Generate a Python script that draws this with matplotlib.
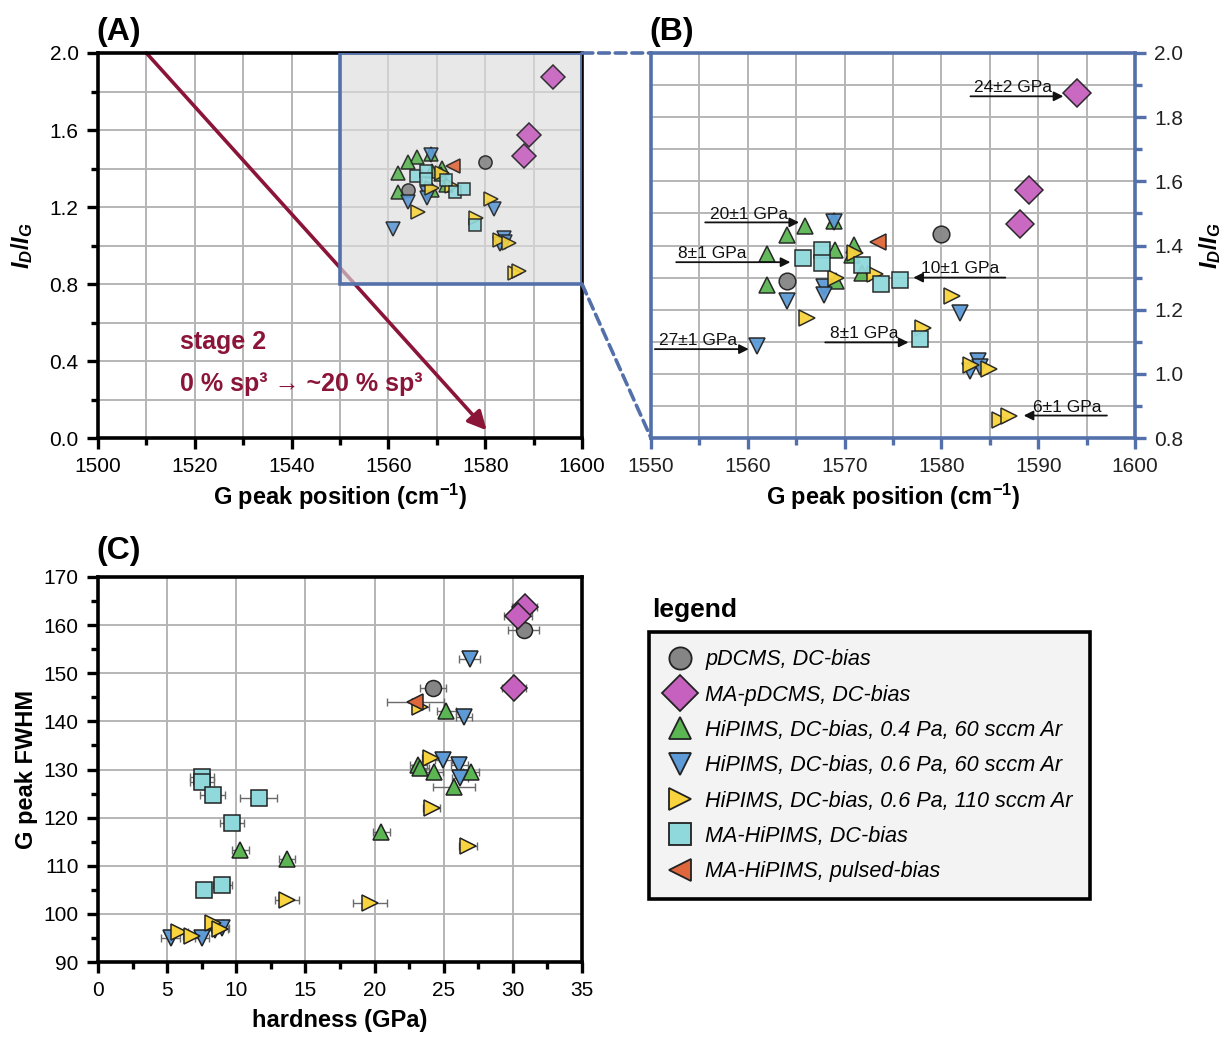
import matplotlib
matplotlib.use('Agg')
import matplotlib.pyplot as plt
from matplotlib.lines import Line2D
from matplotlib.patches import Rectangle, ConnectionPatch
from matplotlib.ticker import MultipleLocator, FormatStrFormatter

plt.rcParams['font.family'] = ['Liberation Sans', 'DejaVu Sans']
plt.rcParams['mathtext.fontset'] = 'custom'
plt.rcParams['mathtext.rm'] = 'Liberation Sans:bold'
plt.rcParams['mathtext.it'] = 'Liberation Sans:italic:bold'
plt.rcParams['mathtext.bf'] = 'Liberation Sans:bold'

# ---------------- data: panels A/B (G peak position, I_D/I_G) ----------------
pdcms_pos = [1564.0, 1580.0]
pdcms_ratio = [1.288, 1.436]
mapdcms_pos = [1594.0, 1589.0, 1588.1]
mapdcms_ratio = [1.875, 1.574, 1.467]
hip04_pos = [1565.9, 1564.0, 1568.9, 1562.0, 1569.0, 1571.0, 1570.8, 1571.8, 1569.1, 1562.0]
hip04_ratio = [1.460, 1.432, 1.475, 1.375, 1.387, 1.403, 1.370, 1.314, 1.288, 1.278]
hip06_pos = [1568.9, 1564.0, 1567.9, 1567.9, 1581.9, 1560.9, 1583.8, 1583.0, 1584.0]
hip06_ratio = [1.472, 1.226, 1.271, 1.245, 1.190, 1.088, 1.039, 1.008, 1.020]
hip110_pos = [1571.1, 1569.1, 1573.1, 1581.1, 1566.1, 1578.1, 1583.1, 1584.9, 1586.1, 1587.0]
hip110_ratio = [1.377, 1.300, 1.310, 1.242, 1.174, 1.143, 1.029, 1.015, 0.857, 0.868]
mahip_pos = [1565.7, 1567.7, 1567.7, 1571.8, 1573.8, 1575.7, 1577.8]
mahip_ratio = [1.361, 1.387, 1.345, 1.340, 1.280, 1.291, 1.109]
mapulse_pos = [1573.4]
mapulse_ratio = [1.411]

# ---------------- data: panel C (hardness, G peak FWHM, hardness error) ----------------
pdcms_hard = [30.77, 24.23]
pdcms_fwhm = [158.9, 147.0]
pdcms_err = [1.15, 0.94]
mapdcms_hard = [30.87, 30.36, 30.07]
mapdcms_fwhm = [163.8, 161.8, 147.0]
mapdcms_err = [0.9, 1.03, 0.88]
hip04_hard = [25.2, 23.16, 23.3, 24.32, 26.97, 25.74, 20.5, 10.3, 13.66]
hip04_fwhm = [142.1, 131.0, 130.3, 129.4, 129.4, 126.4, 117.1, 113.2, 111.4]
hip04_err = [0.7, 0.6, 0.6, 0.6, 0.6, 1.5, 0.6, 0.6, 0.55]
hip06_hard = [26.9, 26.45, 24.97, 26.13, 26.18, 5.25, 7.5, 8.46, 9.0]
hip06_fwhm = [153.0, 140.9, 131.9, 131.0, 128.2, 94.9, 94.9, 96.7, 97.0]
hip06_err = [0.76, 0.58, 0.6, 0.6, 0.6, 0.7, 0.5, 0.5, 0.5]
hip110_hard = [23.3, 24.05, 24.12, 26.76, 19.67, 13.7, 5.88, 6.77, 8.34, 8.82]
hip110_fwhm = [143.0, 132.3, 122.0, 114.1, 102.3, 102.9, 96.2, 95.3, 98.2, 96.8]
hip110_err = [0.6, 0.6, 0.6, 0.66, 1.2, 0.87, 0.6, 0.6, 0.6, 0.6]
mahip_hard = [7.51, 7.51, 8.29, 11.62, 9.68, 9.0, 7.63]
mahip_fwhm = [128.4, 127.4, 124.7, 124.1, 118.9, 105.9, 104.9]
mahip_err = [0.85, 0.85, 0.9, 1.34, 0.89, 0.67, 0.57]
mapulse_hard = [22.95]
mapulse_fwhm = [144.0]
mapulse_err = [2.05]

labels = ['pDCMS, DC-bias', 'MA-pDCMS, DC-bias',
          'HiPIMS, DC-bias, 0.4 Pa, 60 sccm Ar', 'HiPIMS, DC-bias, 0.6 Pa, 60 sccm Ar',
          'HiPIMS, DC-bias, 0.6 Pa, 110 sccm Ar', 'MA-HiPIMS, DC-bias', 'MA-HiPIMS, pulsed-bias']

# (B) annotations: text, arrow start, arrow end, text position
ann_text = ['24±2 GPa', '20±1 GPa', '8±1 GPa', '10±1 GPa', '8±1 GPa', '27±1 GPa', '6±1 GPa']
ann_start = [(1583.0, 1.865), (1555.6, 1.472), (1552.6, 1.348), (1586.6, 1.300),
             (1568.0, 1.098), (1550.4, 1.077), (1597.1, 0.870)]
ann_end = [(1592.6, 1.865), (1565.3, 1.472), (1564.4, 1.348), (1577.1, 1.300),
           (1576.6, 1.098), (1560.1, 1.077), (1588.5, 0.870)]
ann_txt_pos = [(1583.4, 1.877), (1556.1, 1.484), (1552.8, 1.360), (1577.9, 1.313),
               (1568.5, 1.111), (1550.8, 1.089), (1589.5, 0.882)]

# ---------------- styles ----------------
markers = ['o', 'D', '^', 'v', '>', 's', '<']
colors = ['#858585', '#c761bf', '#5bb553', '#5d9ad6', '#f9d43e', '#8fd8dc', '#e0673b']
size_scale = [1.0, 0.75, 1.0, 1.0, 1.0, 0.95, 1.0]
blue = '#5470aa'
darkred = '#8b1538'

ab_series = [(pdcms_pos, pdcms_ratio), (mapdcms_pos, mapdcms_ratio), (hip04_pos, hip04_ratio),
             (hip06_pos, hip06_ratio), (hip110_pos, hip110_ratio), (mahip_pos, mahip_ratio),
             (mapulse_pos, mapulse_ratio)]
c_series = [(pdcms_hard, pdcms_fwhm, pdcms_err), (mapdcms_hard, mapdcms_fwhm, mapdcms_err),
            (hip04_hard, hip04_fwhm, hip04_err), (hip06_hard, hip06_fwhm, hip06_err),
            (hip110_hard, hip110_fwhm, hip110_err), (mahip_hard, mahip_fwhm, mahip_err),
            (mapulse_hard, mapulse_fwhm, mapulse_err)]

W, H = 1228, 1038
fig = plt.figure(figsize=(W / 100, H / 100), dpi=100)


def rect(l, t, r, b):
    return [l / W, 1 - b / H, (r - l) / W, (b - t) / H]


axA = fig.add_axes(rect(98, 53, 582, 438))
axB = fig.add_axes(rect(651, 53, 1135, 438))
axC = fig.add_axes(rect(98, 577, 582, 962))

TICK_FS = 15
LABEL_FS = 17
grid_kw = dict(color='#b5b5b5', linewidth=1.4)


def style_axes(ax, spine_color='black'):
    for s in ax.spines.values():
        s.set_linewidth(2.6)
        s.set_color(spine_color)
    ax.tick_params(which='major', direction='out', length=8, width=2.4, labelsize=TICK_FS,
                   color=spine_color, pad=6)
    ax.tick_params(which='minor', direction='out', length=5, width=2.4, color=spine_color)


# ---------------- panel A ----------------
axA.set_xlim(1500, 1600)
axA.set_ylim(0, 2.0)
axA.xaxis.set_major_locator(MultipleLocator(20))
axA.xaxis.set_minor_locator(MultipleLocator(10))
axA.yaxis.set_major_locator(MultipleLocator(0.4))
axA.yaxis.set_minor_locator(MultipleLocator(0.2))
axA.yaxis.set_major_formatter(FormatStrFormatter('%.1f'))
axA.grid(True, which='both', **grid_kw)
axA.set_axisbelow(True)
style_axes(axA)
axA.set_xlabel('G peak position (cm$^{-1}$)', fontsize=LABEL_FS, fontweight='bold', labelpad=4)
axA.set_ylabel('$I_D/I_G$', fontsize=LABEL_FS, labelpad=10)

axA.annotate('', xy=(1580.3, 0.04), xytext=(1510, 2.0),
             arrowprops=dict(arrowstyle='-|>', color=darkred, lw=2.6, mutation_scale=28,
                             shrinkA=0, shrinkB=0), zorder=2)
axA.add_patch(Rectangle((1550, 0.8), 50, 1.2, facecolor='#dcdcdc', alpha=0.65,
                        edgecolor='none', zorder=3))
axA.add_patch(Rectangle((1550, 0.8), 50, 1.2, fill=False, edgecolor=blue, lw=2.6, zorder=3.5))
axA.text(1517.0, 0.50, 'stage 2', color=darkred, fontsize=18, fontweight='bold', va='center')
axA.text(1517.0, 0.28, '0 % sp³ → ~20 % sp³', color=darkred, fontsize=18, fontweight='bold',
         va='center')

for (x, y), m, c, s in zip(ab_series, markers, colors, size_scale):
    axA.plot(x, y, linestyle='none', marker=m, ms=9.5 * s if m != 'D' else 12.5,
             markerfacecolor=c, markeredgecolor='#222222', markeredgewidth=1.1, alpha=0.9, zorder=5)

# ---------------- panel B ----------------
axB.set_xlim(1550, 1600)
axB.set_ylim(0.8, 2.0)
axB.xaxis.set_major_locator(MultipleLocator(10))
axB.xaxis.set_minor_locator(MultipleLocator(5))
axB.yaxis.set_major_locator(MultipleLocator(0.2))
axB.yaxis.set_minor_locator(MultipleLocator(0.1))
axB.yaxis.set_major_formatter(FormatStrFormatter('%.1f'))
axB.yaxis.tick_right()
axB.yaxis.set_label_position('right')
axB.grid(True, which='both', **grid_kw)
axB.set_axisbelow(True)
style_axes(axB, blue)
axB.tick_params(axis='both', labelcolor='#222222')
axB.set_xlabel('G peak position (cm$^{-1}$)', fontsize=LABEL_FS, fontweight='bold', labelpad=4)
axB.set_ylabel('$I_D/I_G$', fontsize=LABEL_FS, labelpad=10, rotation=90)

for (x, y), m, c, s in zip(ab_series, markers, colors, size_scale):
    axB.plot(x, y, linestyle='none', marker=m, ms=12 * s if m != 'D' else 14,
             markerfacecolor=c, markeredgecolor='#222222', markeredgewidth=1.1, alpha=0.95, zorder=5)

for t, st, en, tp in zip(ann_text, ann_start, ann_end, ann_txt_pos):
    axB.annotate('', xy=en, xytext=st,
                 arrowprops=dict(arrowstyle='-|>', color='#111111', lw=1.3, mutation_scale=14,
                                 shrinkA=0, shrinkB=0), zorder=6)
    axB.text(tp[0], tp[1], t, fontsize=12.5, va='baseline', ha='left', color='#111111', zorder=6)

# connectors
for ya, yb in [(2.0, 2.0), (0.8, 0.8)]:
    con = ConnectionPatch(xyA=(1600, ya), coordsA=axA.transData, xyB=(1550, yb),
                          coordsB=axB.transData, color=blue, lw=2.6, linestyle=(0, (3, 1.6)))
    fig.add_artist(con)

# ---------------- panel C ----------------
axC.set_xlim(0, 35)
axC.set_ylim(90, 170)
axC.xaxis.set_major_locator(MultipleLocator(5))
axC.xaxis.set_minor_locator(MultipleLocator(2.5))
axC.yaxis.set_major_locator(MultipleLocator(10))
axC.yaxis.set_minor_locator(MultipleLocator(5))
axC.grid(True, which='major', **grid_kw)
axC.set_axisbelow(True)
style_axes(axC)
axC.set_xlabel('hardness (GPa)', fontsize=LABEL_FS, fontweight='bold', labelpad=6)
axC.set_ylabel('G peak FWHM', fontsize=LABEL_FS, fontweight='bold', labelpad=4)

for (x, y, e), m, c, s in zip(c_series, markers, colors, size_scale):
    axC.errorbar(x, y, xerr=e, fmt='none', ecolor='#6a6a6a', elinewidth=1.0, capsize=3,
                 capthick=1.0, zorder=3)
    axC.plot(x, y, linestyle='none', marker=m, ms=11.5 * s if m != 'D' else 13.5,
             markerfacecolor=c, markeredgecolor='#222222', markeredgewidth=1.1, zorder=4)

# ---------------- panel titles ----------------
for txt, xp, yp in [('(A)', 96, 32), ('(B)', 649, 32), ('(C)', 96, 551)]:
    fig.text(xp / W, 1 - yp / H, txt, fontsize=23, fontweight='bold', va='center', ha='left')

# ---------------- legend ----------------
handles = [Line2D([], [], linestyle='none', marker=m, ms=16 * s if m != 'D' else 18,
                  markerfacecolor=c, markeredgecolor='#222222', markeredgewidth=1.3)
           for m, c, s in zip(markers, colors, size_scale)]
leg = fig.legend(handles, labels, loc='upper left', bbox_to_anchor=(649 / W, 1 - 632 / H),
                 frameon=True, fancybox=False, edgecolor='black', facecolor='#f3f3f3',
                 prop=dict(style='italic', size=15.6), labelspacing=0.66, handlelength=1.3,
                 handletextpad=0.5, borderpad=0.8, borderaxespad=0, framealpha=1)
leg.get_frame().set_linewidth(2.6)
fig.text(652 / W, 1 - 610 / H, 'legend', fontsize=19, fontweight='bold', va='center', ha='left')

fig.savefig('out.png', dpi=100)
